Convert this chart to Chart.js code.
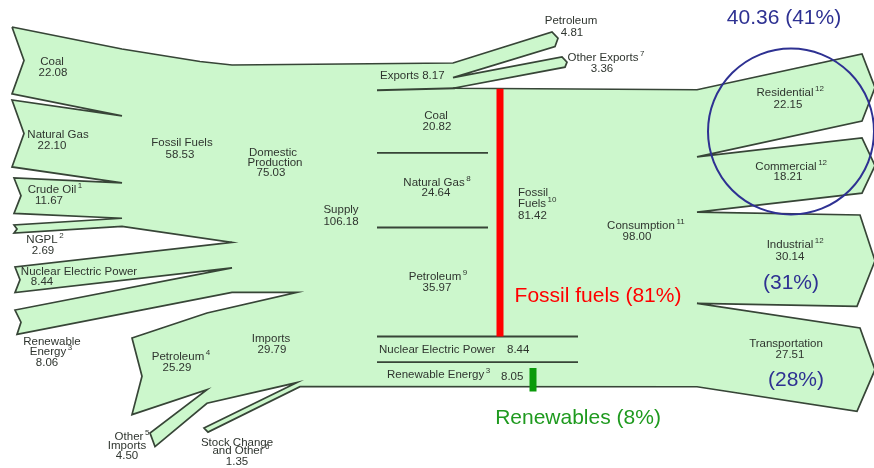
<!DOCTYPE html>
<html>
<head>
<meta charset="utf-8">
<script src="https://cdn.jsdelivr.net/npm/chart.js@4.4.1/dist/chart.umd.min.js"></script>
<style>
html,body{margin:0;padding:0;background:#fff;overflow:hidden;}
#wrap{width:874px;height:468px;position:relative;}
</style>
</head>
<body>
<div id="wrap"><canvas id="c"></canvas></div>
<script>
// ---------------- DATA (quadrillion Btu) ----------------
const sourceNames = ['Coal', 'Natural Gas', 'Crude Oil', 'NGPL', 'Nuclear Electric Power', 'Renewable Energy'];
const sourceNotes = ['', '', '1', '2', '', '3'];
const sourceValues = [22.08, 22.10, 11.67, 2.69, 8.44, 8.06];
const fossilProduction = 58.53;
const domesticProduction = 75.03;
const importNames = ['Petroleum', 'Other Imports'];
const importValues = [25.29, 4.50];
const importsTotal = 29.79;
const stockChange = 1.35;
const supplyTotal = 106.18;
const exportNames = ['Petroleum', 'Other Exports'];
const exportValues = [4.81, 3.36];
const exportsTotal = 8.17;
const consSourceNames = ['Coal', 'Natural Gas', 'Petroleum', 'Nuclear Electric Power', 'Renewable Energy'];
const consSourceNotes = ['', '8', '9', '', '3'];
const consSourceValues = [20.82, 24.64, 35.97, 8.44, 8.05];
const fossilConsumption = 81.42;
const consumptionTotal = 98.00;
const sectorNames = ['Residential', 'Commercial', 'Industrial', 'Transportation'];
const sectorNotes = ['12', '12', '12', ''];
const sectorValues = [22.15, 18.21, 30.14, 27.51];
const highlightTexts = ['40.36 (41%)', '(31%)', '(28%)', 'Fossil fuels (81%)', 'Renewables (8%)'];

// ---------------- LAYOUT (geometry derived from values) ----------------
const k = 3.03;          // pixels per quadrillion Btu
const yTop = 65;
function cum(vals, start) { const o = [start]; vals.forEach(v => o.push(o[o.length - 1] + v * k)); return o; }

const ff = cum(sourceValues.slice(0, 4), 49);                                   // fossil join at x=122
const dp = cum([fossilProduction, sourceValues[4], sourceValues[5]], yTop);      // domestic at x=232
const sup = cum([domesticProduction, importsTotal, stockChange], yTop);          // supply at x=297
const imp = cum(importValues, 313);                                              // imports join at x=207
const ex = cum(exportValues, yTop - 2);                                          // exports at x=453
const consTop = yTop + exportsTotal * k;
const sec = cum(sectorValues, consTop);                                          // sectors at x=697
const cs = cum(consSourceValues, consTop);                                       // source bands in consumption

const srcTop = [27, 100, 178, 225, 267, 310];
const srcX = [12, 12, 14, 14, 15, 15];
const srcNotch = [12, 12, 7, 3, 5, 6];
const srcBot = srcTop.map((t, i) => t + sourceValues[i] * k);
const secTop = [54, 138, 215, 328];
const secXt = [862, 862, 860, 860];
const secXb = [862, 862, 857, 857];
const secBot = secTop.map((t, i) => t + sectorValues[i] * k);

const body = [];
const P = (x, y) => body.push({x, y});
// top: coal to supply to exports
P(srcX[0], srcTop[0]); P(87, 42); P(122, ff[0]); P(200, 61.5); P(232, dp[0]); P(453, ex[0]);
// petroleum exports
P(552, 32); P(558, 32 + exportValues[0] * k / 2 - 1); P(555, 32 + exportValues[0] * k);
P(453, ex[1]);
// other exports
P(562, 57); P(567, 57 + exportValues[1] * k / 2); P(565, 57 + exportValues[1] * k);
P(453, consTop - 1.5);
// consumption top, sectors
P(697, sec[0]);
for (let i = 0; i < 4; i++) {
  if (i > 0) P(697, sec[i]);
  P(secXt[i], secTop[i]);
  P(875, (secTop[i] + secBot[i]) / 2);
  P(secXb[i], secBot[i]);
}
P(697, sec[4]);
// bottom, stock change, imports
P(300, sup[3]);
P(208, 428 + stockChange * k); P(204, 428);
P(297, sup[2]);
P(207, imp[2]);
P(155, 433 + importValues[1] * k); P(150, 433);
P(207, imp[1]);
P(132, 338 + importValues[0] * k); P(142, 338 + importValues[0] * k / 2); P(132, 338);
P(207, imp[0]); P(297, sup[1]);
// renewable, nuclear
P(232, dp[3]);
P(srcX[5] + 2, srcBot[5]); P(srcX[5] + srcNotch[5], (srcTop[5] + srcBot[5]) / 2); P(srcX[5], srcTop[5]);
P(232, dp[2]);
P(srcX[4], srcBot[4]); P(srcX[4] + srcNotch[4], (srcTop[4] + srcBot[4]) / 2); P(srcX[4], srcTop[4]);
P(232, dp[1]);
// fossil sources
P(122, ff[4]);
for (let i = 3; i >= 0; i--) {
  P(srcX[i], srcBot[i]);
  P(srcX[i] + srcNotch[i], (srcTop[i] + srcBot[i]) / 2);
  P(srcX[i], srcTop[i]);
  if (i > 0) P(122, ff[i]);
}

const GREEN = '#ccf7cc';
const EDGE = '#374537';
function seg(x1, y1, x2, y2, color, w) {
  return {data: [{x: x1, y: y1}, {x: x2, y: y2}], showLine: true, fill: false, borderColor: color,
    borderWidth: w, pointRadius: 0, tension: 0, borderCapStyle: 'butt', order: 1, clip: false};
}
const datasets = [
  {data: body, showLine: true, fill: 'shape', backgroundColor: GREEN, borderColor: EDGE, borderWidth: 1.7,
   pointRadius: 0, tension: 0, order: 10, clip: false},
  seg(377, consTop + 0.5, 455, consTop - 1.5, EDGE, 2),
  seg(377, cs[1], 488, cs[1], EDGE, 1.8),
  seg(377, cs[2], 488, cs[2], EDGE, 1.8),
  seg(377, cs[3], 578, cs[3], EDGE, 1.8),
  seg(377, cs[4], 578, cs[4], EDGE, 1.8),
  Object.assign(seg(500, consTop - 1, 500, cs[3], '#ff0000', 7), {order: 0}),
  Object.assign(seg(533, cs[4] + 6, 533, cs[5] + 5, '#0a9a0a', 7), {order: 0})
];

const f2 = v => v.toFixed(2);
const TXT = '#2f352f';
// [text, x, y, align, sup]
const labels = [
  [sourceNames[0], 52, 62], [f2(sourceValues[0]), 53, 73],
  [sourceNames[1], 58, 135], [f2(sourceValues[1]), 52, 146],
  [sourceNames[2], 52, 190, 'center', sourceNotes[2]], [f2(sourceValues[2]), 49, 201],
  [sourceNames[3], 42, 240, 'center', sourceNotes[3]], [f2(sourceValues[3]), 43, 251],
  [sourceNames[4], 79, 272], [f2(sourceValues[4]), 42, 282],
  ['Renewable', 52, 342], ['Energy', 48, 352, 'center', sourceNotes[5]], [f2(sourceValues[5]), 47, 363],
  ['Fossil Fuels', 182, 143], [f2(fossilProduction), 180, 155],
  ['Domestic', 273, 153], ['Production', 275, 163], [f2(domesticProduction), 271, 173],
  ['Supply', 341, 210], [f2(supplyTotal), 341, 222],
  ['Imports', 271, 339], [f2(importsTotal), 272, 350],
  [importNames[0], 178, 357, 'center', '4'], [f2(importValues[0]), 177, 368],
  ['Other', 129, 437, 'center', '5'], ['Imports', 127, 446], [f2(importValues[1]), 127, 456],
  ['Stock Change', 237, 443], ['and Other', 238, 451, 'center', '6'], [f2(stockChange), 237, 462],
  ['Exports ' + f2(exportsTotal), 380, 76, 'left'],
  [exportNames[0], 571, 21], [f2(exportValues[0]), 572, 33],
  [exportNames[1], 603, 58, 'center', '7'], [f2(exportValues[1]), 602, 69],
  [consSourceNames[0], 436, 116], [f2(consSourceValues[0]), 437, 127],
  [consSourceNames[1], 434, 183, 'center', consSourceNotes[1]], [f2(consSourceValues[1]), 436, 193],
  ['Fossil', 518, 193, 'left'], ['Fuels', 518, 204, 'left', '10'], [f2(fossilConsumption), 518, 216, 'left'],
  [consSourceNames[2], 435, 277, 'center', consSourceNotes[2]], [f2(consSourceValues[2]), 437, 288],
  [consSourceNames[3], 379, 350, 'left'], [f2(consSourceValues[3]), 507, 350, 'left'],
  [consSourceNames[4], 387, 375, 'left', consSourceNotes[4]], [f2(consSourceValues[4]), 501, 377, 'left'],
  ['Consumption', 641, 226, 'center', '11'], [f2(consumptionTotal), 637, 237],
  [sectorNames[0], 785, 93, 'center', sectorNotes[0]], [f2(sectorValues[0]), 788, 105],
  [sectorNames[1], 786, 167, 'center', sectorNotes[1]], [f2(sectorValues[1]), 788, 177],
  [sectorNames[2], 790, 245, 'center', sectorNotes[2]], [f2(sectorValues[2]), 790, 257],
  [sectorNames[3], 786, 344], [f2(sectorValues[3]), 790, 355]
];
const bigLabels = [
  [highlightTexts[0], 784, 18, '#2e3192'],
  [highlightTexts[1], 791, 283, '#2e3192'],
  [highlightTexts[2], 796, 380, '#2e3192'],
  [highlightTexts[3], 598, 296, '#ff0000'],
  [highlightTexts[4], 578, 418, '#1f9a1f']
];
const FONT = '"Liberation Sans", Arial, sans-serif';

const labelPlugin = {
  id: 'labels',
  afterDatasetsDraw(chart) {
    const c = chart.ctx, xs = chart.scales.x, ys = chart.scales.y;
    c.save();
    // highlight circle
    c.beginPath();
    const cx = xs.getPixelForValue(791), cy = ys.getPixelForValue(131.5);
    const r = xs.getPixelForValue(874) - xs.getPixelForValue(791);
    c.arc(cx, cy, r, 0, Math.PI * 2);
    c.strokeStyle = '#2e3192'; c.lineWidth = 2; c.stroke();
    c.textBaseline = 'middle';
    labels.forEach(([t, x, y, align, s]) => {
      c.font = '11.5px ' + FONT; c.fillStyle = TXT;
      const px = xs.getPixelForValue(x), py = ys.getPixelForValue(y);
      c.textAlign = align || 'center';
      c.fillText(t, px, py);
      if (s) {
        const w = c.measureText(t).width;
        const right = (align === 'left') ? px + w : px + w / 2;
        c.font = '8px ' + FONT; c.textAlign = 'left';
        c.fillText(s, right + 1.5, py - 4.5);
      }
    });
    bigLabels.forEach(([t, x, y, col]) => {
      c.font = '21px ' + FONT; c.fillStyle = col; c.textAlign = 'center';
      c.fillText(t, xs.getPixelForValue(x), ys.getPixelForValue(y));
    });
    c.restore();
  }
};

new Chart(document.getElementById('c'), {
  type: 'scatter',
  data: {datasets},
  options: {
    animation: false, responsive: true, maintainAspectRatio: false, events: [],
    layout: {padding: 0},
    plugins: {legend: {display: false}, tooltip: {enabled: false}},
    scales: {
      x: {type: 'linear', min: 0, max: 874, display: false},
      y: {type: 'linear', min: 0, max: 468, reverse: true, display: false}
    }
  },
  plugins: [labelPlugin]
});
</script>
</body>
</html>
